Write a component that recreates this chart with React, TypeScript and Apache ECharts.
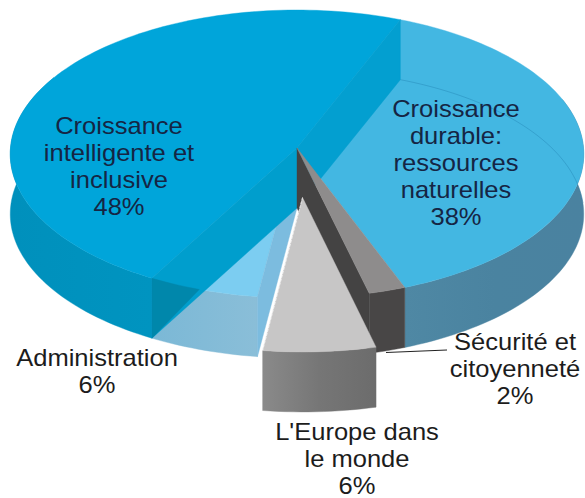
import React, { useEffect, useRef } from "react";
import * as echarts from "echarts";

// Budget shares, clockwise from the back-right edge of the disc.
const sliceNames = [
  "Croissance durable: ressources naturelles",
  "Sécurité et citoyenneté",
  "L'Europe dans le monde",
  "Administration",
  "Croissance intelligente et inclusive",
];
const sliceValues = [38, 2, 6, 6, 48];
const explodeAmounts = [0, 0, 0.34, 0, 0];
const paintOrder = [3, 0, 4, 1, 2];

const labelLines = [
  ["Croissance", "durable:", "ressources", "naturelles", "38%"],
  ["Sécurité et", "citoyenneté", "2%"],
  ["L'Europe dans", "le monde", "6%"],
  ["Administration", "6%"],
  ["Croissance", "intelligente et", "inclusive", "48%"],
];

const START_DEG = 22;
const CX = 297;
const CY = 148;
const RX = 286.5;
const RY = 143.75;
const PERSPECTIVE = 0.0417;
const DEPTH = 60;
const LINE_GAP = 27;
const FONT = '23px "Liberation Sans", Arial, sans-serif';

type Pt = [number, number];
const rad = (d: number) => (d * Math.PI) / 180;

// Projects a point of the unit disc to the screen, nearer points drawn larger.
function project(deg: number, r: number, ex = 0, ey = 0, lift = 0): Pt {
  const u = r * Math.sin(rad(deg)) + ex;
  const v = -r * Math.cos(rad(deg)) + ey;
  const s = 1 / (1 - PERSPECTIVE * v);
  return [CX + RX * u * s, CY + RY * v * s + lift];
}

function rim(from: number, to: number, ex = 0, ey = 0, lift = 0): Pt[] {
  const pts: Pt[] = [];
  const n = Math.max(2, Math.ceil(Math.abs(to - from) / 1.5));
  for (let i = 0; i <= n; i++) pts.push(project(from + ((to - from) * i) / n, 1, ex, ey, lift));
  return pts;
}

const total = sliceValues.reduce((a, b) => a + b, 0);
const spans = sliceValues.map((v, i) => {
  const before = sliceValues.slice(0, i).reduce((a, b) => a + b, 0);
  return [START_DEG + (before / total) * 360, START_DEG + ((before + v) / total) * 360];
});

const poly = (points: Pt[], fill: any, extra: any = {}) => ({
  type: "polygon",
  shape: { points },
  silent: true,
  style: { fill, stroke: fill, lineWidth: 0.4, ...extra },
});
const hGrad = (stops: [number, string][]) =>
  new echarts.graphic.LinearGradient(
    0, 0, 1, 0,
    stops.map(([offset, color]) => ({ offset, color }))
  );

function sideOf(p: Pt, a: Pt, b: Pt) {
  return (b[0] - a[0]) * (p[1] - a[1]) - (b[1] - a[1]) * (p[0] - a[0]);
}

function renderSlice(params: any) {
  const idx = paintOrder[params.dataIndex];
  const [a0, a1] = spans[idx];
  const mid = (a0 + a1) / 2;
  const e = explodeAmounts[idx];
  const ex = e * Math.sin(rad(mid));
  const ey = -e * Math.cos(rad(mid));
  const apex = project(0, 0, ex, ey);
  const apexLow: Pt = [apex[0], apex[1] + DEPTH];
  const top = [apex, ...rim(a0, a1, ex, ey)];
  const wall = (from: number, to: number): Pt[] => [
    ...rim(from, to, ex, ey),
    ...rim(to, from, ex, ey, DEPTH),
  ];
  const cut = (deg: number): Pt[] => {
    const p = project(deg, 1, ex, ey);
    return [apex, p, [p[0], p[1] + DEPTH], apexLow];
  };
  let children: any[] = [];

  if (idx === 0) {
    children = [
      poly(wall(70, a1), hGrad([[0, "#4f88a4"], [0.5, "#4a83a0"], [1, "#4a82a0"]])),
      poly(top, "#43b7e2"),
      {
        type: "polyline",
        shape: { points: rim(a0, 88, 0, 0, DEPTH) },
        silent: true,
        style: { fill: "none", stroke: "rgba(20,110,160,0.3)", lineWidth: 1 },
      },
    ];
  } else if (idx === 1) {
    children = [
      poly(wall(a0, a1), "#484646"),
      poly(cut(a1), "#444343"),
      poly(top, "#8e8c8c"),
    ];
  } else if (idx === 2) {
    const left = project(a1, 1, ex, ey);
    children = [
      poly(wall(a0, a1), hGrad([[0, "#8a8a8a"], [0.5, "#767676"], [1, "#6c6c6c"]])),
      poly(top, "#c7c6c6"),
      {
        type: "line",
        shape: { x1: apex[0], y1: apex[1], x2: left[0], y2: left[1] },
        silent: true,
        style: { stroke: "#ffffff", lineWidth: 0.7, lineDash: [3, 1] },
      },
    ];
  } else if (idx === 3) {
    children = [
      poly(wall(a0, a1), hGrad([[0, "#7bb8d6"], [1, "#8abed8"]])),
      poly(top, "#7ccdf1"),
      poly(cut(a0), "#7cbcdf"),
    ];
  } else {
    // Both cut faces show through the large slice; the part in front of the
    // neighbouring wall reads darker.
    const front = cut(a0);
    const back = cut(a1);
    const lowFront = front[2];
    const neighbour = spans[3];
    const overArc = rim(neighbour[1], neighbour[0]).filter(
      (p) => sideOf(p, apexLow, lowFront) * sideOf(apex, apexLow, lowFront) > 0
    );
    children = [
      poly(wall(a0, 300), hGrad([[0, "#0090bc"], [1, "#0094c0"]])),
      poly(top, "#00a5da"),
      poly(back, "#039fd0"),
      poly(front, "#009ecd"),
      poly([...overArc, lowFront], "#0087ab"),
    ];
  }
  return { type: "group", children };
}

const labelSpots: [number, number][] = [
  [456, 163],
  [515, 369],
  [357, 459],
  [97, 371],
  [119, 166],
];
const labelInk = ["#152544", "#1c1c1c", "#1c1c1c", "#1c1c1c", "#152544"];

export default function App() {
  const ref = useRef<HTMLDivElement>(null);
  useEffect(() => {
    if (!ref.current) return;
    const chart = echarts.init(ref.current, undefined, { renderer: "svg" });
    chart.setOption({
      animation: false,
      backgroundColor: "#ffffff",
      series: [
        {
          type: "custom",
          coordinateSystem: "none",
          silent: true,
          clip: false,
          renderItem: renderSlice,
          data: paintOrder.map((i) => ({ name: sliceNames[i], value: sliceValues[i] })),
        },
      ],
      graphic: [
        {
          type: "line",
          z: 5,
          silent: true,
          shape: { x1: 386, y1: 352.5, x2: 447, y2: 350 },
          style: { stroke: "#222222", lineWidth: 1.2 },
        },
        ...labelLines.flatMap((lines, i) =>
          lines.map((text, j) => ({
            type: "text",
            z: 10,
            silent: true,
            x: labelSpots[i][0],
            y: labelSpots[i][1] + (j - (lines.length - 1) / 2) * LINE_GAP,
            scaleX: 1.11,
            style: {
              text,
              font: FONT,
              fill: labelInk[i],
              align: "center",
              verticalAlign: "middle",
            },
          }))
        ),
      ],
    });
    return () => chart.dispose();
  }, []);
  return (
    <div
      ref={ref}
      style={{ position: "fixed", left: 0, top: 0, width: 585, height: 498, background: "#fff" }}
    />
  );
}
